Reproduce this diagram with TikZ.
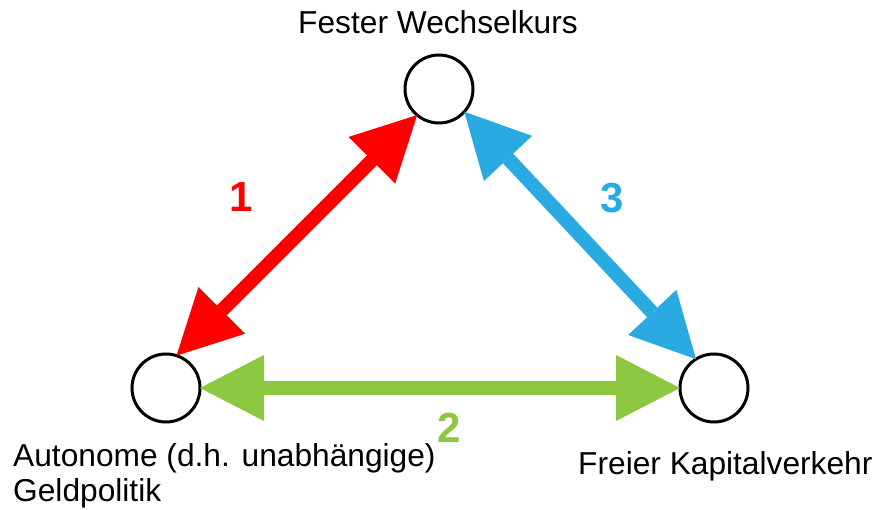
\documentclass[tikz,border=0pt]{standalone}
\usepackage{fontspec}
\setmainfont{Liberation Sans}
\usetikzlibrary{arrows.meta}
\definecolor{arrred}{RGB}{255,0,0}
\definecolor{arrblue}{RGB}{41,171,226}
\definecolor{arrgreen}{RGB}{141,198,63}
\begin{document}
\begin{tikzpicture}[x=1pt,y=-1pt,
  pole/.style={circle,draw=black,line width=3pt,minimum size=68pt,inner sep=0pt,outer sep=0pt},
  bigtip/.tip={Triangle[length=64pt,width=66pt,line width=0pt]},
  bigarrow/.style={line width=14pt,bigtip-bigtip},
  lbl/.style={inner sep=0pt,font=\fontsize{31.7}{34.5}\selectfont},
  num/.style={inner sep=0pt,anchor=base,font=\fontsize{42}{42}\selectfont\bfseries}]
\useasboundingbox (0,0) rectangle (876,510);
\node[pole] (top) at (439,89) {};
\node[pole] (left) at (166,388) {};
\node[pole] (right) at (714,388) {};
\draw[bigarrow,arrred] (left.72) -- (top.230);
\draw[bigarrow,arrblue] (top.318) -- (right.122);
\draw[bigarrow,arrgreen] (left.0) -- (right.180);
\node[num,text=arrred] (n1) at (241,212) {1};
\node[num,text=arrblue] (n3) at (612,213) {3};
\node[num,text=arrgreen] (n2) at (449,443) {2};
\node[lbl,anchor=base] (tlabel) at (438,33.3) {Fester Wechselkurs};
\node[lbl,anchor=base west] (llabel1) at (13,467) {Autonome (d.h. unabhängige)};
\node[lbl,anchor=base west] (llabel2) at (13,501.7) {Geldpolitik};
\node[lbl,anchor=base west] (rlabel) at (578,475) {Freier Kapitalverkehr};
\end{tikzpicture}
\end{document}
